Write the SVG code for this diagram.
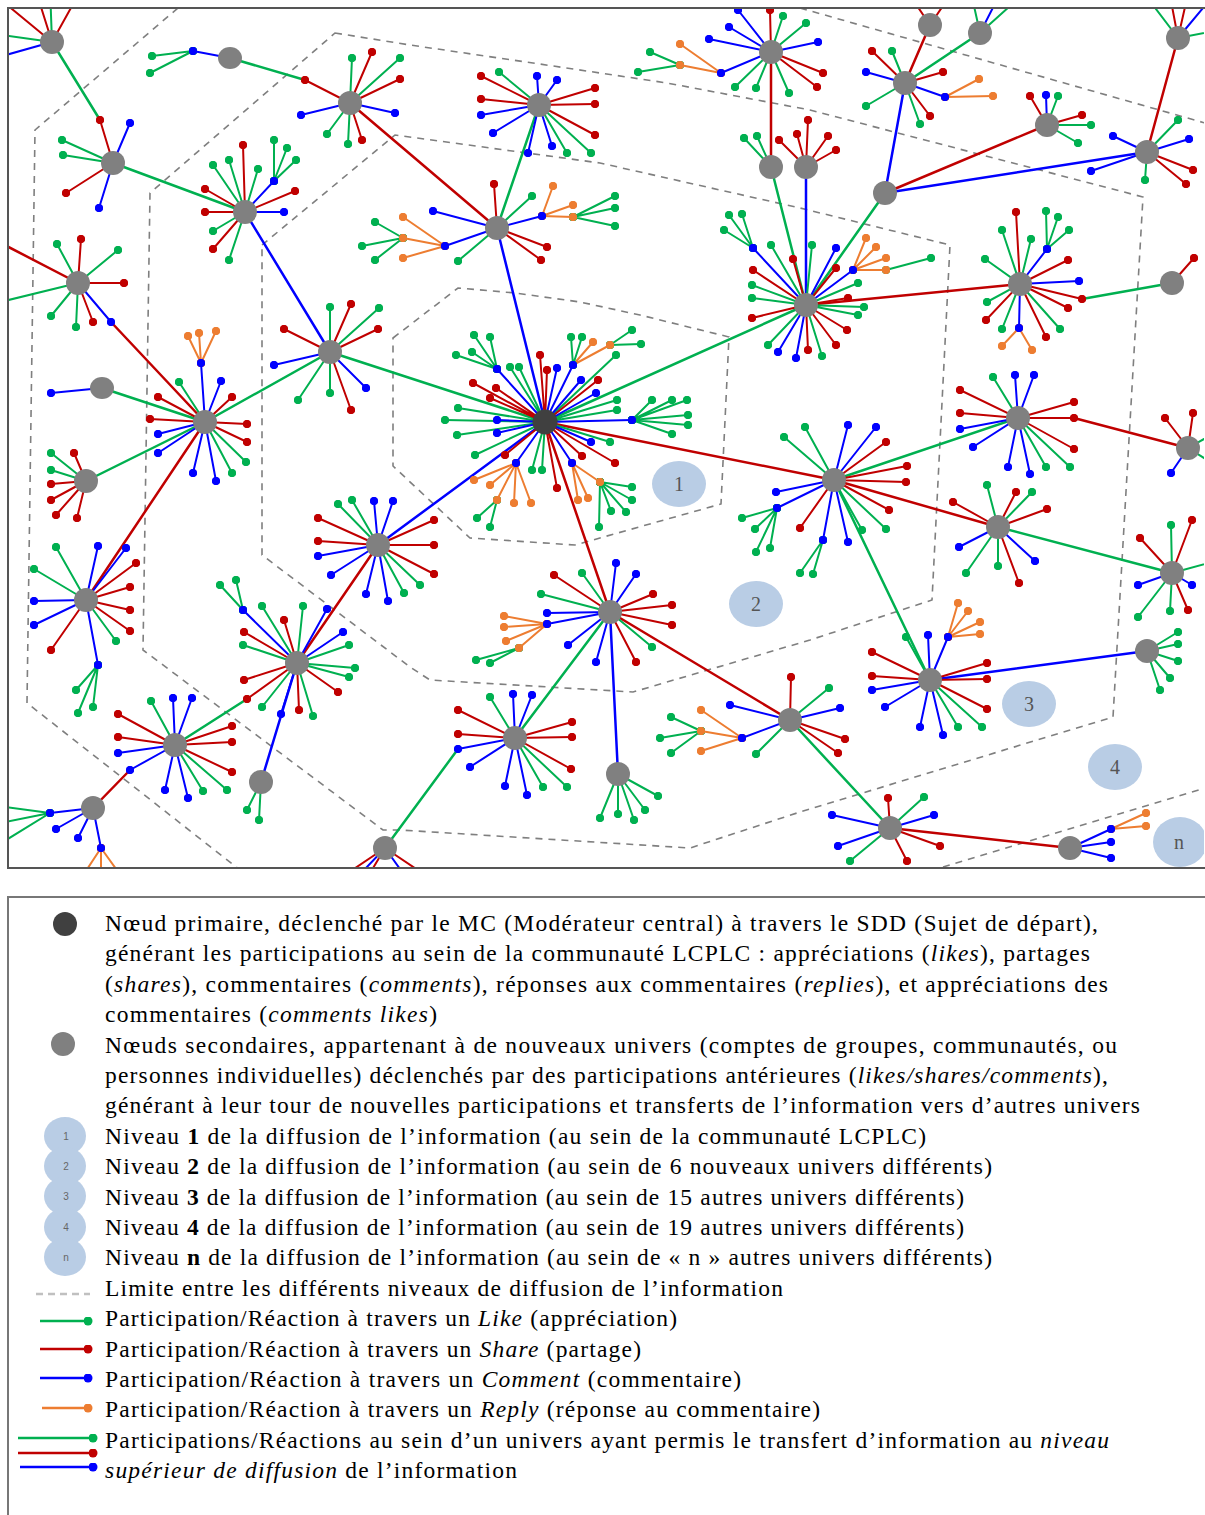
<svg xmlns="http://www.w3.org/2000/svg" width="1205" height="1515" viewBox="0 0 1205 1515">
<style>
.s{fill:none;stroke-width:2;stroke-linecap:round}
.g{stroke:#00b050;marker-start:url(#mg);marker-mid:url(#mg);marker-end:url(#mg)}
.r{stroke:#c00000;marker-start:url(#mr);marker-mid:url(#mr);marker-end:url(#mr)}
.b{stroke:#0000ff;marker-start:url(#mb);marker-mid:url(#mb);marker-end:url(#mb)}
.o{stroke:#ed7d31;marker-start:url(#mo);marker-mid:url(#mo);marker-end:url(#mo)}
.c{fill:none;stroke-width:2.5;stroke-linecap:round}
.cg{stroke:#00b050}.cr{stroke:#c00000}.cb{stroke:#0000ff}
.h{fill:#808080}.p{fill:#404040}
.d{fill:none;stroke:#7f7f7f;stroke-width:1.6;stroke-dasharray:7 6}
.lv{fill:#b9cde5}
.lt{font-family:"Liberation Serif","Times New Roman",serif;font-size:20px;fill:#555;text-anchor:middle}
.tx{font-family:"Liberation Serif","Times New Roman",serif;font-size:23.5px;fill:#000}
.sn{font-family:"Liberation Sans",Arial,sans-serif;font-size:10px;fill:#666;text-anchor:middle}
.le{stroke-width:2.5;fill:none}
</style>
<defs>
<marker id="mg" viewBox="-5 -5 10 10" markerWidth="8.5" markerHeight="8.5" markerUnits="userSpaceOnUse" orient="0"><circle r="5" fill="#00b050"/></marker>
<marker id="mr" viewBox="-5 -5 10 10" markerWidth="8.5" markerHeight="8.5" markerUnits="userSpaceOnUse" orient="0"><circle r="5" fill="#c00000"/></marker>
<marker id="mb" viewBox="-5 -5 10 10" markerWidth="8.5" markerHeight="8.5" markerUnits="userSpaceOnUse" orient="0"><circle r="5" fill="#0000ff"/></marker>
<marker id="mo" viewBox="-5 -5 10 10" markerWidth="8.5" markerHeight="8.5" markerUnits="userSpaceOnUse" orient="0"><circle r="5" fill="#ed7d31"/></marker>
<marker id="eg" viewBox="-5 -5 10 10" markerWidth="9" markerHeight="9" markerUnits="userSpaceOnUse"><circle r="5" fill="#00b050"/></marker>
<marker id="er" viewBox="-5 -5 10 10" markerWidth="9" markerHeight="9" markerUnits="userSpaceOnUse"><circle r="5" fill="#c00000"/></marker>
<marker id="eb" viewBox="-5 -5 10 10" markerWidth="9" markerHeight="9" markerUnits="userSpaceOnUse"><circle r="5" fill="#0000ff"/></marker>
<marker id="eo" viewBox="-5 -5 10 10" markerWidth="9" markerHeight="9" markerUnits="userSpaceOnUse"><circle r="5" fill="#ed7d31"/></marker>
<clipPath id="frame"><rect x="9" y="9" width="1195" height="858"/></clipPath>
</defs>
<rect x="0" y="0" width="1205" height="1515" fill="#fff"/>
<g clip-path="url(#frame)">
<g id="levels">
<path class="d" d="M393 338L458 288L515 293L580 302L640 315L729 337L721 504L575 545L470 538L393 466Z"/>
<path class="d" d="M262 245L395 135L600 163L800 208L950 245L932 600L810 640L633 692L430 680L410 667L262 555Z"/>
<path class="d" d="M335 33L410 45L533 63L667 83L810 110L1143 197L1113 717L800 812L690 848L400 830L383 830L143 650L150 193Z"/>
<path class="d" d="M178 8L35 130L27 703L240 870"/>
<path class="d" d="M800 8L1205 123"/>
<path class="d" d="M943 867L1205 788"/>
</g>
<g id="labels">
<ellipse class="lv" cx="679" cy="484" rx="27" ry="23"/><text class="lt" x="679" y="491">1</text>
<ellipse class="lv" cx="756" cy="604" rx="27" ry="23"/><text class="lt" x="756" y="611">2</text>
<ellipse class="lv" cx="1029" cy="704" rx="27" ry="23"/><text class="lt" x="1029" y="711">3</text>
<ellipse class="lv" cx="1115" cy="767" rx="27" ry="23"/><text class="lt" x="1115" y="774">4</text>
<ellipse class="lv" cx="1180" cy="842" rx="27" ry="25"/><text class="lt" x="1179" y="849">n</text>
</g>
<g id="connectors">
<path class="c cg" d="M52 42L100 120M230 58L305 80M113 163L245 212M539 105L497 228M102 388L205 422M86 481L205 422M330 352L205 422M330 352L545 422M175 745L247 699M458 749L385 848M610 612L515 738M545 422L806 305M834 480L930 680M790 720L890 828M834 480L1018 418M998 527L1172 573M1082 299L1172 283M771 167L806 305M885 193L806 305M905 83L980 33"/>
<path class="c cr" d="M350 103L497 228M-5 240L78 283M111 322L205 422M205 422L86 600M378 545L297 663M130 770L93 808M545 422L610 612M610 612L790 720M545 422L834 480M890 828L1070 848M834 480L998 527M1074 418L1188 448M806 305L1020 284M771 52L771 167M885 193L1047 125M1147 152L1178 38M905 83L930 25"/>
<path class="c cb" d="M245 212L330 352M497 228L545 422M545 422L378 545M297 663L261 782M610 612L618 774M930 680L1147 651M806 167L806 305M905 83L885 193M885 193L1147 152"/>
</g>
<g id="n-a"><path class="s r" d="M52 42L-5 -5M52 42L35 -12M52 42L82 -12"/><path class="s g" d="M52 42L50 -12M52 42L-12 33"/><path class="s b" d="M52 42L-12 60"/><circle class="h" cx="52" cy="42" r="12"/></g>
<g id="n-b"><path class="s g" d="M193 51L152 56M193 51L150 73"/><path class="s b" d="M230 58L193 51"/><ellipse class="h" cx="230" cy="58" rx="12" ry="11"/></g>
<g id="n-c"><path class="s r" d="M350 103L305 80M350 103L372 52M350 103L400 79M350 103L362 140"/><path class="s g" d="M350 103L352 58M350 103L400 58M350 103L348 144M350 103L327 134"/><path class="s b" d="M350 103L395 113M350 103L301 115"/><circle class="h" cx="350" cy="103" r="12"/></g>
<g id="n-d"><path class="s r" d="M113 163L100 120M113 163L66 193"/><path class="s b" d="M113 163L130 123M113 163L99 208"/><path class="s g" d="M113 163L62 140M113 163L63 155"/><circle class="h" cx="113" cy="163" r="12"/></g>
<g id="n-e"><path class="s g" d="M274 181L274 140M274 181L287 148M274 181L296 160"/><path class="s r" d="M245 212L243 145M245 212L205 189M245 212L205 212M245 212L213 249M245 212L295 191"/><path class="s g" d="M245 212L213 165M245 212L229 160M245 212L258 169M245 212L213 231M245 212L229 260"/><path class="s b" d="M245 212L284 212M245 212L274 181"/><circle class="h" cx="245" cy="212" r="12"/></g>
<g id="n-f"><path class="s r" d="M78 283L81 239M78 283L124 283M78 283L93 322"/><path class="s g" d="M78 283L57 244M78 283L118 250M78 283L51 316M78 283L76 327M78 283L-12 305"/><path class="s b" d="M78 283L111 322"/><circle class="h" cx="78" cy="283" r="12"/></g>
<g id="n-g"><path class="s r" d="M539 105L481 76M539 105L595 88M539 105L595 104M539 105L595 135M539 105L481 99"/><path class="s g" d="M539 105L499 72M539 105L591 153M539 105L567 153"/><path class="s b" d="M539 105L537 76M539 105L557 80M539 105L552 146M539 105L528 153M539 105L493 133M539 105L481 115"/><circle class="h" cx="539" cy="105" r="12"/></g>
<g id="n-h"><path class="s g" d="M573 217L615 196M573 217L615 208M573 217L615 226M403 238L375 222M403 238L362 246M403 238L375 260"/><path class="s o" d="M542 216L553 186M542 216L573 205M542 216L573 217M445 246L403 217M445 246L403 238M445 246L403 258"/><path class="s r" d="M497 228L494 184M497 228L547 247M497 228L541 260"/><path class="s g" d="M497 228L532 196M497 228L458 261"/><path class="s b" d="M497 228L542 216M497 228L433 211M497 228L445 246"/><circle class="h" cx="497" cy="228" r="12"/></g>
<g id="n-i"><path class="s g" d="M680 65L650 52M680 65L638 72"/><path class="s o" d="M721 73L680 65M721 73L680 44"/><path class="s r" d="M771 52L770 10M771 52L823 73M771 52L817 87"/><path class="s g" d="M771 52L783 16M771 52L806 23M771 52L735 87M771 52L756 88M771 52L789 93"/><path class="s b" d="M771 52L738 10M771 52L729 27M771 52L709 39M771 52L818 42M771 52L721 73"/><circle class="h" cx="771" cy="52" r="12"/></g>
<g id="n-j"><path class="s g" d="M771 167L744 138M771 167L757 136"/><circle class="h" cx="771" cy="167" r="12"/></g>
<g id="n-k"><path class="s r" d="M806 167L779 140M806 167L797 134M806 167L808 120M806 167L828 136M806 167L836 150"/><circle class="h" cx="806" cy="167" r="12"/></g>
<g id="n-l"><path class="s r" d="M930 25L955 -12M930 25L905 -12"/><circle class="h" cx="930" cy="25" r="12"/></g>
<g id="n-m"><path class="s g" d="M980 33L970 -12M980 33L1030 -12"/><path class="s b" d="M980 33L1003 -12"/><circle class="h" cx="980" cy="33" r="12"/></g>
<g id="n-n"><path class="s o" d="M945 97L979 79M945 97L993 96"/><path class="s r" d="M905 83L872 51M905 83L943 72M905 83L930 116"/><path class="s g" d="M905 83L892 51M905 83L920 124M905 83L866 106"/><path class="s b" d="M905 83L866 72M905 83L945 97"/><circle class="h" cx="905" cy="83" r="12"/></g>
<g id="n-o"><circle class="h" cx="885" cy="193" r="12"/></g>
<g id="n-p"><path class="s r" d="M1047 125L1030 96M1047 125L1082 115"/><path class="s b" d="M1047 125L1046 95"/><path class="s g" d="M1047 125L1058 96M1047 125L1091 125M1047 125L1078 143"/><circle class="h" cx="1047" cy="125" r="12"/></g>
<g id="n-q"><path class="s b" d="M1147 152L1113 136M1147 152L1189 139M1147 152L1091 171"/><path class="s g" d="M1147 152L1178 120M1147 152L1145 180"/><path class="s r" d="M1147 152L1193 170M1147 152L1186 184"/><circle class="h" cx="1147" cy="152" r="12"/></g>
<g id="n-r"><path class="s g" d="M1178 38L1140 -12M1178 38L1220 30"/><path class="s r" d="M1178 38L1168 -15M1178 38L1190 -15"/><path class="s b" d="M1178 38L1218 -10"/><circle class="h" cx="1178" cy="38" r="12"/></g>
<g id="n-s"><path class="s r" d="M1172 283L1194 258"/><circle class="h" cx="1172" cy="283" r="12"/></g>
<g id="n-t"><path class="s g" d="M1047 249L1046 211M1047 249L1058 217M1047 249L1069 230"/><path class="s o" d="M1019 328L1002 346M1019 328L1032 350"/><path class="s r" d="M1020 284L1016 212M1020 284L1068 260M1020 284L986 320M1020 284L1046 337M1020 284L1068 308M1020 284L1082 299"/><path class="s g" d="M1020 284L1002 230M1020 284L1031 239M1020 284L985 259M1020 284L987 302M1020 284L1002 329M1020 284L1060 329"/><path class="s b" d="M1020 284L1047 249M1020 284L1079 281M1020 284L1019 328"/><circle class="h" cx="1020" cy="284" r="12"/></g>
<g id="n-u"><path class="s g" d="M886 270L931 258M753 248L729 215M753 248L742 214M753 248L724 230"/><path class="s o" d="M853 270L866 238M853 270L876 247M853 270L886 258M853 270L886 270"/><path class="s r" d="M806 305L793 259M806 305L753 270M806 305L836 268M806 305L848 298M806 305L847 330M806 305L836 345M806 305L808 350M806 305L752 318"/><path class="s g" d="M806 305L771 245M806 305L752 285M806 305L752 298M806 305L812 245M806 305L858 283M806 305L864 307M806 305L858 315M806 305L822 356M806 305L768 345"/><path class="s b" d="M806 305L753 248M806 305L836 248M806 305L853 270M806 305L778 352M806 305L796 358"/><circle class="h" cx="806" cy="305" r="12"/></g>
<g id="n-v"><path class="s g" d="M330 352L330 307M330 352L379 308M330 352L298 400M330 352L330 393"/><path class="s r" d="M330 352L351 304M330 352L378 329M330 352L284 329M330 352L351 410"/><path class="s b" d="M330 352L274 365M330 352L366 388"/><circle class="h" cx="330" cy="352" r="12"/></g>
<g id="n-w"><path class="s o" d="M201 363L188 336M201 363L199 333M201 363L216 331"/><path class="s g" d="M205 422L179 382M205 422L246 462M205 422L232 473"/><path class="s r" d="M205 422L158 397M205 422L232 397M205 422L150 419M205 422L247 424M205 422L247 442"/><path class="s b" d="M205 422L201 363M205 422L221 381M205 422L158 434M205 422L158 453M205 422L193 473M205 422L216 481"/><circle class="h" cx="205" cy="422" r="12"/></g>
<g id="n-x"><path class="s b" d="M102 388L51 393"/><ellipse class="h" cx="102" cy="388" rx="12" ry="11"/></g>
<g id="n-y"><path class="s g" d="M86 481L51 453M86 481L51 470"/><path class="s r" d="M86 481L74 453M86 481L51 484M86 481L51 500M86 481L56 515M86 481L77 518"/><circle class="h" cx="86" cy="481" r="12"/></g>
<g id="n-z"><path class="s g" d="M98 665L76 690M98 665L93 707M98 665L78 713"/><path class="s g" d="M86 600L56 547M86 600L34 569M86 600L116 641"/><path class="s r" d="M86 600L136 563M86 600L130 587M86 600L130 610M86 600L130 631M86 600L51 650"/><path class="s b" d="M86 600L98 546M86 600L126 548M86 600L34 601M86 600L34 625M86 600L98 665"/><circle class="h" cx="86" cy="600" r="12"/></g>
<g id="n-aa"><path class="s g" d="M243 610L220 585M243 610L236 580"/><path class="s g" d="M297 663L262 606M297 663L303 606M297 663L349 645M297 663L355 668M297 663L349 677M297 663L313 716M297 663L262 707M297 663L243 645"/><path class="s r" d="M297 663L284 620M297 663L338 692M297 663L299 710M297 663L244 680M297 663L247 699M297 663L244 632"/><path class="s b" d="M297 663L243 610M297 663L327 609M297 663L343 632M297 663L281 714"/><circle class="h" cx="297" cy="663" r="12"/></g>
<g id="n-ab"><path class="s r" d="M378 545L318 518M378 545L318 541M378 545L434 520M378 545L434 545M378 545L434 574"/><path class="s g" d="M378 545L338 504M378 545L352 500M378 545L404 593M378 545L420 585"/><path class="s b" d="M378 545L374 501M378 545L393 501M378 545L318 556M378 545L331 575M378 545L366 594M378 545L388 601"/><circle class="h" cx="378" cy="545" r="12"/></g>
<g id="n-ac"><path class="s g" d="M175 745L151 701M175 745L203 791M175 745L227 790"/><path class="s r" d="M175 745L118 714M175 745L118 737M175 745L232 726M175 745L232 742M175 745L232 772"/><path class="s b" d="M175 745L173 698M175 745L192 698M175 745L118 753M175 745L165 790M175 745L188 798M175 745L130 770"/><circle class="h" cx="175" cy="745" r="12"/></g>
<g id="n-ad"><path class="s g" d="M261 782L247 810M261 782L259 820"/><circle class="h" cx="261" cy="782" r="12"/></g>
<g id="n-ae"><path class="s o" d="M101 848L80 880M101 848L101 880M101 848L124 880"/><path class="s g" d="M50 813L-10 805M50 813L-10 825M50 813L-10 850"/><path class="s b" d="M93 808L50 813M93 808L56 829M93 808L78 838M93 808L101 848"/><circle class="h" cx="93" cy="808" r="12"/></g>
<g id="n-af"><path class="s r" d="M385 848L330 885M385 848L440 885M385 848L360 890"/><path class="s b" d="M385 848L345 890M385 848L415 890"/><circle class="h" cx="385" cy="848" r="12"/></g>
<g id="n-ag"><path class="s g" d="M515 738L490 697M515 738L543 787M515 738L567 787"/><path class="s r" d="M515 738L458 710M515 738L458 734M515 738L571 769M515 738L572 737M515 738L572 722"/><path class="s b" d="M515 738L513 694M515 738L532 695M515 738L458 749M515 738L470 767M515 738L505 786M515 738L527 795"/><circle class="h" cx="515" cy="738" r="12"/></g>
<g id="n-ah"><path class="s g" d="M519 648L476 660M519 648L490 663"/><path class="s o" d="M547 624L504 616M547 624L504 627M547 624L506 641M547 624L519 648"/><path class="s g" d="M610 612L541 594M610 612L582 573M610 612L652 647"/><path class="s r" d="M610 612L554 575M610 612L636 662M610 612L672 625M610 612L672 605M610 612L653 594"/><path class="s b" d="M610 612L547 613M610 612L547 624M610 612L568 645M610 612L596 662M610 612L616 563M610 612L636 574"/><circle class="h" cx="610" cy="612" r="12"/></g>
<g id="n-ai"><path class="s g" d="M618 774L600 818M618 774L618 814M618 774L634 820M618 774L645 810M618 774L658 796"/><circle class="h" cx="618" cy="774" r="12"/></g>
<g id="n-aj"><path class="s g" d="M701 731L671 717M701 731L660 738M701 731L671 753"/><path class="s o" d="M742 738L701 710M742 738L701 731M742 738L701 751"/><path class="s r" d="M790 720L791 677M790 720L845 739M790 720L838 753"/><path class="s g" d="M790 720L756 754M790 720L829 688"/><path class="s b" d="M790 720L730 705M790 720L742 738M790 720L840 708"/><circle class="h" cx="790" cy="720" r="12"/></g>
<g id="n-ak"><path class="s r" d="M890 828L888 798M890 828L940 846M890 828L907 861"/><path class="s g" d="M890 828L924 797M890 828L850 861"/><path class="s b" d="M890 828L934 815M890 828L832 815M890 828L838 846"/><circle class="h" cx="890" cy="828" r="12"/></g>
<g id="n-al"><path class="s o" d="M948 637L958 603M948 637L968 611M948 637L980 622M948 637L980 634"/><path class="s g" d="M930 680L906 637M930 680L958 727M930 680L982 727"/><path class="s r" d="M930 680L872 652M930 680L872 676M930 680L987 709M930 680L987 679M930 680L987 663"/><path class="s b" d="M930 680L928 635M930 680L948 637M930 680L872 690M930 680L885 707M930 680L920 727M930 680L943 735"/><circle class="h" cx="930" cy="680" r="12"/></g>
<g id="n-am"><path class="s g" d="M1147 651L1178 632M1147 651L1178 644M1147 651L1178 661M1147 651L1170 678M1147 651L1160 690"/><circle class="h" cx="1147" cy="651" r="12"/></g>
<g id="n-an"><path class="s o" d="M1111 829L1146 813M1111 829L1146 826"/><path class="s b" d="M1070 848L1111 829M1070 848L1111 842M1070 848L1111 858"/><circle class="h" cx="1070" cy="848" r="12"/></g>
<g id="n-ao"><path class="s g" d="M777 508L742 518M777 508L755 529M777 508L756 552M777 508L770 548M823 540L800 573M823 540L813 574"/><path class="s g" d="M834 480L784 437M834 480L805 427M834 480L862 530M834 480L886 529"/><path class="s r" d="M834 480L886 442M834 480L907 466M834 480L906 482M834 480L889 510M834 480L800 528"/><path class="s b" d="M834 480L848 425M834 480L876 427M834 480L776 492M834 480L777 508M834 480L848 542M834 480L823 540"/><circle class="h" cx="834" cy="480" r="12"/></g>
<g id="n-ap"><path class="s g" d="M998 527L987 485M998 527L1032 492M998 527L966 573M998 527L998 566"/><path class="s r" d="M998 527L1016 492M998 527L1047 509M998 527L953 502M998 527L1019 583"/><path class="s b" d="M998 527L959 547M998 527L1035 561"/><circle class="h" cx="998" cy="527" r="12"/></g>
<g id="n-aq"><path class="s g" d="M1018 418L993 377M1018 418L1046 467M1018 418L1070 467"/><path class="s r" d="M1018 418L960 390M1018 418L960 413M1018 418L1074 449M1018 418L1074 418M1018 418L1074 402"/><path class="s b" d="M1018 418L1015 375M1018 418L1034 375M1018 418L960 429M1018 418L973 447M1018 418L1008 467M1018 418L1030 474"/><circle class="h" cx="1018" cy="418" r="12"/></g>
<g id="n-ar"><path class="s r" d="M1188 448L1165 418M1188 448L1193 413"/><path class="s b" d="M1188 448L1171 473"/><path class="s g" d="M1188 448L1220 430M1188 448L1220 468"/><circle class="h" cx="1188" cy="448" r="12"/></g>
<g id="n-as"><path class="s g" d="M1172 573L1171 525M1172 573L1138 617M1172 573L1170 611M1172 573L1220 560"/><path class="s r" d="M1172 573L1192 520M1172 573L1140 538M1172 573L1188 610"/><path class="s b" d="M1172 573L1138 585M1172 573L1192 585"/><circle class="h" cx="1172" cy="573" r="12"/></g>
<g id="n-primary"><path class="s g" d="M610 345L632 330M610 345L641 344M600 482L632 487M600 482L632 500M600 482L626 512M600 482L611 511M600 482L599 527M497 500L477 518M497 500L490 527"/><path class="s o" d="M573 365L593 342M573 365L610 345M572 463L578 500M572 463L588 498M572 463L600 482M516 463L474 480M516 463L490 485M516 463L497 500M516 463L514 503M516 463L531 503"/><path class="s g" d="M497 369L474 335M497 369L490 337M497 369L456 355M497 369L472 352M573 365L571 337M573 365L582 337M632 420L652 400M632 420L672 400M632 420L687 400M632 420L688 415M632 420L688 425M632 420L672 434"/><path class="s g" d="M545 422L510 367M545 422L519 367M545 422L617 400M545 422L617 410M545 422L616 355M545 422L610 442M545 422L532 470M545 422L542 470M545 422L475 455M545 422L457 435M545 422L445 420M545 422L458 408"/><path class="s r" d="M545 422L540 355M545 422L547 370M545 422L598 380M545 422L582 456M545 422L615 463M545 422L557 488M545 422L505 455M545 422L473 383M545 422L496 388M545 422L490 398"/><path class="s b" d="M545 422L497 369M545 422L557 368M545 422L573 365M545 422L581 380M545 422L596 393M545 422L632 420M545 422L591 442M545 422L572 463M545 422L516 463M545 422L497 433M545 422L497 420"/><circle class="p" cx="545" cy="422" r="12.5"/></g>
</g>
<rect x="8" y="8" width="1198" height="860" fill="none" stroke="#555" stroke-width="2"/>
<g id="legend">
<rect x="8" y="897" width="1198" height="620" fill="none" stroke="#777" stroke-width="2"/>
<circle cx="65" cy="924" r="12" fill="#404040"/>
<circle cx="63" cy="1044" r="12" fill="#808080"/>
<ellipse class="lv" cx="65" cy="1136" rx="21" ry="19"/>
<ellipse class="lv" cx="65" cy="1166" rx="21" ry="19"/>
<ellipse class="lv" cx="65" cy="1196" rx="21" ry="19"/>
<ellipse class="lv" cx="65" cy="1227" rx="21" ry="19"/>
<ellipse class="lv" cx="65" cy="1257" rx="21" ry="19"/>
<text class="sn" x="66" y="1140">1</text>
<text class="sn" x="66" y="1170">2</text>
<text class="sn" x="66" y="1200">3</text>
<text class="sn" x="66" y="1231">4</text>
<text class="sn" x="66" y="1261">n</text>
<line x1="36" y1="1294" x2="90" y2="1294" stroke="#c0c0c0" stroke-width="2.5" stroke-dasharray="7 5"/>
<line class="le" x1="40" y1="1321" x2="88" y2="1321" stroke="#00b050" marker-end="url(#eg)"/>
<line class="le" x1="40" y1="1349" x2="88" y2="1349" stroke="#c00000" marker-end="url(#er)"/>
<line class="le" x1="40" y1="1378" x2="88" y2="1378" stroke="#0000ff" marker-end="url(#eb)"/>
<line class="le" x1="42" y1="1408" x2="88" y2="1408" stroke="#ed7d31" marker-end="url(#eo)"/>
<line class="le" x1="18" y1="1438" x2="93" y2="1438" stroke="#00b050" marker-end="url(#eg)"/>
<line class="le" x1="18" y1="1453" x2="93" y2="1453" stroke="#c00000" marker-end="url(#er)"/>
<line class="le" x1="20" y1="1467" x2="93" y2="1467" stroke="#0000ff" marker-end="url(#eb)"/>
<text class="tx" x="105" y="931" textLength="993">Nœud primaire, déclenché par le MC (Modérateur central) à travers le SDD (Sujet de départ),</text>
<text class="tx" x="105" y="961" textLength="985">générant les participations au sein de la communauté LCPLC : appréciations (<tspan font-style="italic">likes</tspan>), partages</text>
<text class="tx" x="105" y="992" textLength="1003">(<tspan font-style="italic">shares</tspan>), commentaires (<tspan font-style="italic">comments</tspan>), réponses aux commentaires (<tspan font-style="italic">replies</tspan>), et appréciations des</text>
<text class="tx" x="105" y="1022" textLength="332">commentaires (<tspan font-style="italic">comments likes</tspan>)</text>
<text class="tx" x="105" y="1053" textLength="1012">Nœuds secondaires, appartenant à de nouveaux univers (comptes de groupes, communautés, ou</text>
<text class="tx" x="105" y="1083" textLength="1003">personnes individuelles) déclenchés par des participations antérieures (<tspan font-style="italic">likes/shares/comments</tspan>),</text>
<text class="tx" x="105" y="1113" textLength="1035">générant à leur tour de nouvelles participations et transferts de l’information vers d’autres univers</text>
<text class="tx" x="105" y="1144" textLength="821">Niveau <tspan font-weight="bold">1</tspan> de la diffusion de l’information (au sein de la communauté LCPLC)</text>
<text class="tx" x="105" y="1174" textLength="887">Niveau <tspan font-weight="bold">2</tspan> de la diffusion de l’information (au sein de 6 nouveaux univers différents)</text>
<text class="tx" x="105" y="1205" textLength="859">Niveau <tspan font-weight="bold">3</tspan> de la diffusion de l’information (au sein de 15 autres univers différents)</text>
<text class="tx" x="105" y="1235" textLength="859">Niveau <tspan font-weight="bold">4</tspan> de la diffusion de l’information (au sein de 19 autres univers différents)</text>
<text class="tx" x="105" y="1265" textLength="887">Niveau <tspan font-weight="bold">n</tspan> de la diffusion de l’information (au sein de « n » autres univers différents)</text>
<text class="tx" x="105" y="1296" textLength="678">Limite entre les différents niveaux de diffusion de l’information</text>
<text class="tx" x="105" y="1326" textLength="572">Participation/Réaction à travers un <tspan font-style="italic">Like</tspan> (appréciation)</text>
<text class="tx" x="105" y="1357" textLength="536">Participation/Réaction à travers un <tspan font-style="italic">Share</tspan> (partage)</text>
<text class="tx" x="105" y="1387" textLength="636">Participation/Réaction à travers un <tspan font-style="italic">Comment</tspan> (commentaire)</text>
<text class="tx" x="105" y="1417" textLength="715">Participation/Réaction à travers un <tspan font-style="italic">Reply</tspan> (réponse au commentaire)</text>
<text class="tx" x="105" y="1448" textLength="1004">Participations/Réactions au sein d’un univers ayant permis le transfert d’information au <tspan font-style="italic">niveau</tspan></text>
<text class="tx" x="105" y="1478" textLength="412"><tspan font-style="italic">supérieur de diffusion</tspan> de l’information</text>
</g>
</svg>
